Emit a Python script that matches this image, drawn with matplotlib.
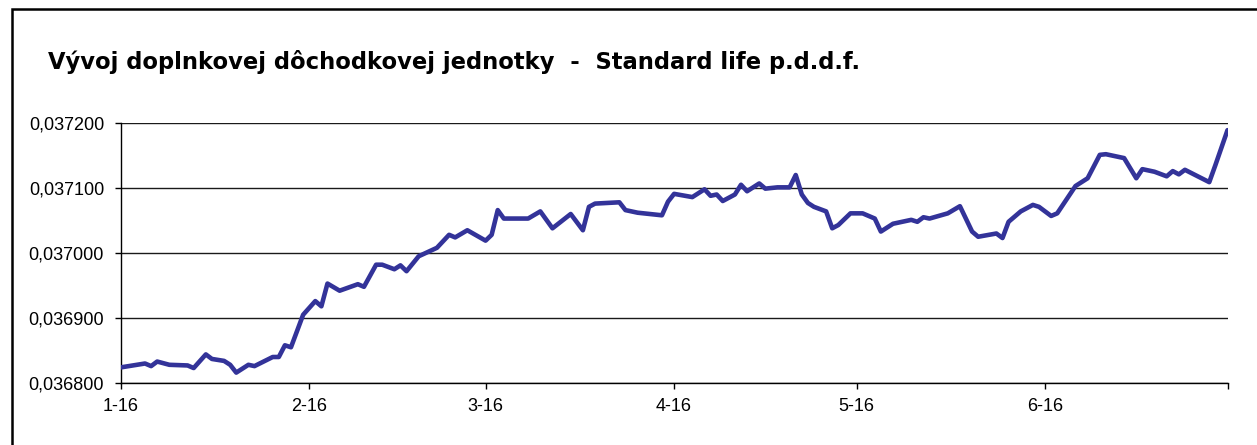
import matplotlib.pyplot as plt
import pandas as pd
from matplotlib.patches import Rectangle
from matplotlib.ticker import FuncFormatter

TITLE = "Vývoj doplnkovej dôchodkovej jednotky  -  Standard life p.d.d.f."

DATES = [
    "2016-01-16", "2016-01-20", "2016-01-21", "2016-01-22", "2016-01-24",
    "2016-01-27", "2016-01-28", "2016-01-30", "2016-01-31", "2016-02-02",
    "2016-02-03", "2016-02-04", "2016-02-06", "2016-02-07", "2016-02-10",
    "2016-02-11", "2016-02-12", "2016-02-13", "2016-02-15", "2016-02-17",
    "2016-02-18", "2016-02-19", "2016-02-21", "2016-02-24", "2016-02-25",
    "2016-02-27", "2016-02-28", "2016-03-01", "2016-03-02", "2016-03-03",
    "2016-03-05", "2016-03-08", "2016-03-10", "2016-03-11", "2016-03-13",
    "2016-03-16", "2016-03-17", "2016-03-18", "2016-03-19", "2016-03-23",
    "2016-03-25", "2016-03-27", "2016-03-30", "2016-04-01", "2016-04-02",
    "2016-04-03", "2016-04-07", "2016-04-08", "2016-04-10", "2016-04-14",
    "2016-04-15", "2016-04-16", "2016-04-19", "2016-04-21", "2016-04-22",
    "2016-04-23", "2016-04-24", "2016-04-26", "2016-04-27", "2016-04-28",
    "2016-04-30", "2016-05-01", "2016-05-03", "2016-05-05", "2016-05-06",
    "2016-05-07", "2016-05-08", "2016-05-09", "2016-05-11", "2016-05-12",
    "2016-05-13", "2016-05-15", "2016-05-17", "2016-05-19", "2016-05-20",
    "2016-05-22", "2016-05-25", "2016-05-26", "2016-05-27", "2016-05-28",
    "2016-05-31", "2016-06-02", "2016-06-04", "2016-06-05", "2016-06-08",
    "2016-06-09", "2016-06-10", "2016-06-12", "2016-06-14", "2016-06-15",
    "2016-06-17", "2016-06-18", "2016-06-21", "2016-06-23", "2016-06-25",
    "2016-06-26", "2016-06-29", "2016-07-01", "2016-07-02", "2016-07-04",
    "2016-07-06", "2016-07-07", "2016-07-08", "2016-07-09", "2016-07-13",
    "2016-07-14", "2016-07-15", "2016-07-16",
]

VALUES = [
    0.036824, 0.036830, 0.036826, 0.036833, 0.036828,
    0.036827, 0.036823, 0.036844, 0.036837, 0.036834,
    0.036828, 0.036816, 0.036828, 0.036826, 0.036840,
    0.036840, 0.036858, 0.036855, 0.036905, 0.036926,
    0.036918, 0.036953, 0.036942, 0.036952, 0.036948,
    0.036982, 0.036982, 0.036975, 0.036981, 0.036972,
    0.036995, 0.037008, 0.037028, 0.037024, 0.037035,
    0.037019, 0.037028, 0.037066, 0.037053, 0.037053,
    0.037064, 0.037038, 0.037060, 0.037035, 0.037071,
    0.037076, 0.037078, 0.037066, 0.037062, 0.037058,
    0.037079, 0.037091, 0.037086, 0.037098, 0.037088,
    0.037090, 0.037080, 0.037090, 0.037105, 0.037095,
    0.037107, 0.037099, 0.037101, 0.037101, 0.037120,
    0.037090, 0.037077, 0.037071, 0.037064, 0.037038,
    0.037043, 0.037061, 0.037061, 0.037053, 0.037033,
    0.037045, 0.037051, 0.037048, 0.037055, 0.037053,
    0.037061, 0.037072, 0.037033, 0.037025, 0.037030,
    0.037023, 0.037048, 0.037064, 0.037074, 0.037071,
    0.037057, 0.037061, 0.037103, 0.037115, 0.037151,
    0.037152, 0.037146, 0.037115, 0.037129, 0.037125,
    0.037118, 0.037126, 0.037121, 0.037128, 0.037109,
    0.037135, 0.037162, 0.037189,
]

X_TICKS = ["2016-01-16", "2016-02-16", "2016-03-16", "2016-04-16",
           "2016-05-16", "2016-06-16", "2016-07-16"]
X_TICK_LABELS = ["1-16", "2-16", "3-16", "4-16", "5-16", "6-16", ""]
Y_TICKS = [0.0368, 0.0369, 0.0370, 0.0371, 0.0372]


def main() -> None:
    plt.rcParams["font.family"] = ["Liberation Sans", "DejaVu Sans"]

    dates = pd.to_datetime(DATES)
    ticks = pd.to_datetime(X_TICKS)

    fig = plt.figure(figsize=(12.57, 4.45), dpi=100)
    ax = fig.add_axes([120.7 / 1257, 1 - 383 / 445, (1227.5 - 120.7) / 1257, 260 / 445])

    # frame around the whole chart (right/bottom fall outside the picture)
    fig.patches.append(Rectangle((11.5 / 1257, -0.1), 1.2, 1.1 - 9 / 445,
                                 transform=fig.transFigure, fill=False,
                                 edgecolor="black", linewidth=1.8))

    for y in Y_TICKS:
        ax.axhline(y, color="#1a1a1a", linewidth=1.0, zorder=1)

    ax.plot(dates, VALUES, color="#333399", linewidth=3.3,
            solid_joinstyle="round", solid_capstyle="round", zorder=3)

    ax.set_xlim(ticks[0], ticks[-1])
    ax.set_ylim(Y_TICKS[0], Y_TICKS[-1])
    ax.set_xticks(ticks)
    ax.set_xticklabels(X_TICK_LABELS)
    ax.set_yticks(Y_TICKS)
    ax.yaxis.set_major_formatter(FuncFormatter(lambda v, _: f"{v:.6f}".replace(".", ",")))

    for side in ("top", "right"):
        ax.spines[side].set_visible(False)
    for side in ("left", "bottom"):
        ax.spines[side].set_color("black")
        ax.spines[side].set_linewidth(1.0)
    ax.tick_params(axis="both", direction="out", length=4, width=1.0,
                   color="black", labelsize=13, labelcolor="black")
    ax.tick_params(axis="y", pad=8)
    ax.tick_params(axis="x", pad=7)

    fig.text(48 / 1257, 1 - 62 / 445, TITLE, fontsize=16.3, fontweight="bold",
             family=["DejaVu Sans"], ha="left", va="center")

    fig.savefig("out.png", dpi=100)
    plt.close(fig)


if __name__ == "__main__":
    main()
